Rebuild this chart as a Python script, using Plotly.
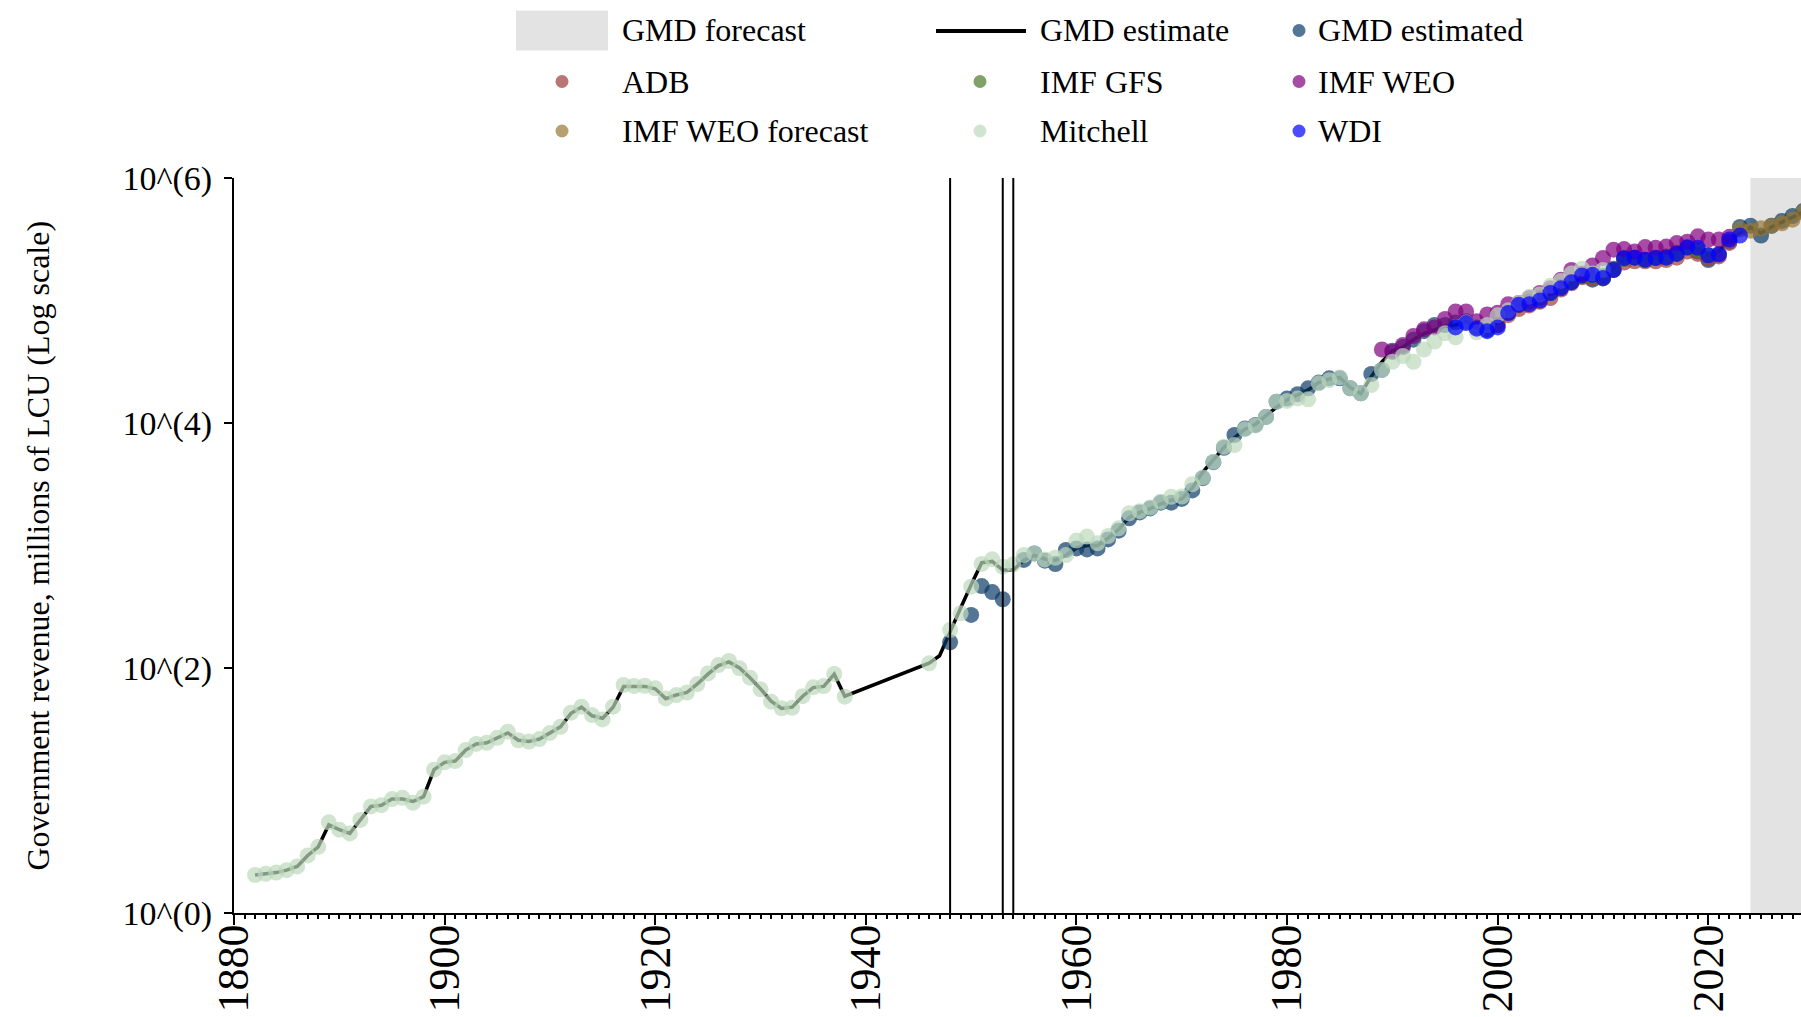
import plotly.graph_objects as go

# ---------------- data (log10 of millions of LCU) ----------------
mitchell_years = list(range(1882, 1939)) + [1946] + list(range(1948, 2011))
mitchell_log10 = [
    0.31, 0.32, 0.33, 0.35, 0.38, 0.47, 0.54, 0.74, 0.68, 0.65,
    0.76, 0.87, 0.88, 0.93, 0.94, 0.90, 0.95, 1.17, 1.23, 1.24,
    1.33, 1.38, 1.39, 1.43, 1.48, 1.41, 1.40, 1.42, 1.47, 1.52,
    1.635, 1.684, 1.616, 1.58, 1.684, 1.861, 1.853, 1.855, 1.834, 1.752,
    1.779, 1.80, 1.869, 1.956, 2.024, 2.057, 1.997, 1.921, 1.826, 1.725,
    1.671, 1.675, 1.77, 1.842, 1.853, 1.951, 1.766,
    2.038,
    2.31, 2.446, 2.664, 2.85, 2.887, 2.827, 2.846, 2.922, 2.935, 2.886,
    2.90, 2.922, 3.04, 3.073, 3.018, 3.077, 3.14, 3.263, 3.28, 3.31,
    3.357, 3.398, 3.40, 3.50, 3.556, 3.684, 3.806, 3.82, 3.949, 3.98,
    4.05, 4.174, 4.18, 4.201, 4.193, 4.324, 4.35, 4.372, 4.283, 4.242,
    4.31, 4.433, 4.50, 4.547, 4.50, 4.60, 4.665, 4.733, 4.70, 4.82,
    4.74, 4.80, 4.88, 4.92, 4.98, 5.03, 5.05, 5.12, 5.16, 5.22,
    5.26, 5.22, 5.25,
]

estimate_years = list(range(1882, 1939)) + list(range(1946, 2030))
estimate_log10 = [
    0.31, 0.32, 0.33, 0.35, 0.38, 0.47, 0.54, 0.72, 0.68, 0.65,
    0.76, 0.87, 0.88, 0.93, 0.93, 0.91, 0.95, 1.17, 1.23, 1.24,
    1.33, 1.38, 1.39, 1.43, 1.47, 1.41, 1.40, 1.42, 1.47, 1.52,
    1.63, 1.68, 1.61, 1.59, 1.68, 1.85, 1.85, 1.85, 1.83, 1.75,
    1.78, 1.80, 1.87, 1.95, 2.02, 2.05, 2.00, 1.92, 1.83, 1.73,
    1.67, 1.68, 1.77, 1.84, 1.85, 1.95, 1.77,
    2.04, 2.10, 2.30, 2.49, 2.68, 2.86, 2.87, 2.80, 2.80, 2.88,
    2.92, 2.89, 2.88, 2.92, 2.98, 3.00, 3.00, 3.06, 3.13, 3.23,
    3.27, 3.30, 3.34, 3.37, 3.38, 3.47, 3.60, 3.70, 3.80, 3.88,
    3.95, 3.99, 4.06, 4.13, 4.19, 4.23, 4.27, 4.33, 4.36, 4.37,
    4.29, 4.24, 4.38, 4.50, 4.59, 4.62, 4.68, 4.73, 4.76, 4.79,
    4.80, 4.83, 4.78, 4.77, 4.82, 4.90, 4.96, 4.99, 5.02, 5.07,
    5.12, 5.16, 5.21, 5.21, 5.20, 5.26, 5.34, 5.35, 5.34, 5.35,
    5.36, 5.39, 5.43, 5.42, 5.37, 5.40, 5.50, 5.55, 5.60, 5.55,
    5.60, 5.64, 5.68, 5.72,
]

gmd_years = [1948] + list(range(1950, 1954)) + list(range(1955, 2030))
gmd_log10 = [
    2.21, 2.433, 2.669, 2.62, 2.561,
    2.882, 2.935, 2.876, 2.848, 2.963, 2.976, 2.968, 2.976, 3.05, 3.121,
    3.222, 3.27, 3.303, 3.35, 3.35, 3.38, 3.45, 3.55, 3.68, 3.798,
    3.902, 3.956, 3.984, 4.05, 4.174, 4.20, 4.235, 4.283, 4.33, 4.365,
    4.365, 4.283, 4.242, 4.40, 4.433, 4.59, 4.62, 4.68, 4.75, 4.80,
    4.80, 4.82, 4.83, 4.78, 4.76, 4.80, 4.90, 4.96, 4.99, 5.02,
    5.07, 5.11, 5.15, 5.20, 5.17, 5.20, 5.26, 5.34, 5.35, 5.33,
    5.35, 5.36, 5.39, 5.43, 5.40, 5.33, 5.38, 5.48, 5.60, 5.61,
    5.53, 5.61, 5.65, 5.69, 5.73,
]

adb_years = list(range(2000, 2023))
adb_log10 = [
    4.80, 4.88, 4.93, 4.96, 4.99, 5.02, 5.09, 5.14, 5.19, 5.18,
    5.18, 5.25, 5.31, 5.32, 5.32, 5.32, 5.33, 5.35, 5.40, 5.38,
    5.34, 5.36, 5.47,
]

gfs_years = list(range(2005, 2021))
gfs_log10 = [
    5.06, 5.11, 5.15, 5.20, 5.20, 5.18, 5.25, 5.34, 5.35, 5.33,
    5.35, 5.35, 5.38, 5.43, 5.41, 5.37,
]

weo_years = list(range(1989, 2023))
weo_log10 = [
    4.60, 4.58, 4.637, 4.71, 4.765, 4.78, 4.85, 4.91, 4.91, 4.83,
    4.886, 4.90, 4.97, 4.98, 5.02, 5.061, 5.10, 5.17, 5.25, 5.22,
    5.286, 5.347, 5.415, 5.42, 5.40, 5.436, 5.43, 5.44, 5.469, 5.48,
    5.524, 5.497, 5.497, 5.52,
]

weo_fc_years = list(range(2023, 2030))
weo_fc_log10 = [5.58, 5.57, 5.59, 5.61, 5.63, 5.66, 5.72]

wdi_years = list(range(1996, 2024))
wdi_log10 = [
    4.78, 4.816, 4.77, 4.75, 4.78, 4.898, 4.966, 4.97, 5.00, 5.061,
    5.10, 5.15, 5.205, 5.21, 5.184, 5.249, 5.347, 5.35, 5.333, 5.347,
    5.35, 5.38, 5.434, 5.43, 5.369, 5.375, 5.497, 5.53,
]

regime_breaks = [1948, 1953, 1954]
forecast_start = 2024
x_range = [1880, 2028.8]
x_tick_years = [1880, 1900, 1920, 1940, 1960, 1980, 2000, 2020]
y_tick_vals = [1, 1e2, 1e4, 1e6]
y_tick_text = ["10^(0)", "10^(2)", "10^(4)", "10^(6)"]

FONT = "Liberation Serif"
ALPHA = 0.7
colors = {
    "GMD estimated": "#0b3a66",
    "ADB": "#9c3a3a",
    "IMF GFS": "#4a7a2a",
    "IMF WEO": "#800080",
    "IMF WEO forecast": "#997733",
    "Mitchell": "#bcd8bc",
    "WDI": "#0000ff",
}


def lin(vals):
    return [10 ** v for v in vals]


fig = go.Figure()

# GMD estimate line
fig.add_trace(go.Scatter(
    x=estimate_years, y=lin(estimate_log10), mode="lines", name="GMD estimate",
    line=dict(color="black", width=3.5), showlegend=False,
))

series = [
    ("GMD estimated", gmd_years, gmd_log10),
    ("ADB", adb_years, adb_log10),
    ("IMF GFS", gfs_years, gfs_log10),
    ("IMF WEO", weo_years, weo_log10),
    ("IMF WEO forecast", weo_fc_years, weo_fc_log10),
    ("Mitchell", mitchell_years, mitchell_log10),
    ("WDI", wdi_years, wdi_log10),
]
for name, xs, ys in series:
    fig.add_trace(go.Scatter(
        x=xs, y=lin(ys), mode="markers", name=name, showlegend=False,
        marker=dict(color=colors[name], size=16, opacity=ALPHA, line=dict(width=0)),
    ))

shapes = []
# forecast shading
shapes.append(dict(type="rect", xref="x", yref="paper", x0=forecast_start, x1=x_range[1],
                   y0=0, y1=1, fillcolor="#e3e3e3", line=dict(width=0), layer="below"))
for yr in regime_breaks:
    shapes.append(dict(type="line", xref="x", yref="paper", x0=yr, x1=yr, y0=0, y1=1,
                       line=dict(color="black", width=2)))

# ---------------- manual legend (paper coords) ----------------
PL, PW, PT, PH = 234, 1567, 178, 735


def px(xpix):
    return (xpix - PL) / PW


def py(ypix):
    return 1 - (ypix - PT) / PH


annotations = []
rows = [30.5, 81.5, 131]
cols_sym = [562, 980, 1299]
cols_txt = [620, 1038, 1316]
legend_items = [
    ("GMD forecast", 0, 0, "rect"),
    ("GMD estimate", 0, 1, "line"),
    ("GMD estimated", 0, 2, "dot"),
    ("ADB", 1, 0, "dot"),
    ("IMF GFS", 1, 1, "dot"),
    ("IMF WEO", 1, 2, "dot"),
    ("IMF WEO forecast", 2, 0, "dot"),
    ("Mitchell", 2, 1, "dot"),
    ("WDI", 2, 2, "dot"),
]
for name, r, c, kind in legend_items:
    yc = rows[r]
    if kind == "rect":
        shapes.append(dict(type="rect", xref="paper", yref="paper",
                           x0=px(516), x1=px(608), y0=py(50.5), y1=py(10.5),
                           fillcolor="#e3e3e3", line=dict(width=0)))
    elif kind == "line":
        shapes.append(dict(type="line", xref="paper", yref="paper",
                           x0=px(936), x1=px(1026), y0=py(31), y1=py(31),
                           line=dict(color="black", width=4)))
    else:
        shapes.append(dict(type="circle", xref="paper", yref="paper",
                           xsizemode="pixel", ysizemode="pixel",
                           xanchor=px(cols_sym[c]), yanchor=py(yc),
                           x0=-6.5, x1=6.5, y0=-6.5, y1=6.5,
                           fillcolor=colors[name], opacity=ALPHA, line=dict(width=0)))
    annotations.append(dict(text=name, xref="paper", yref="paper",
                            x=px(cols_txt[c]), y=py(yc), xanchor="left", yanchor="middle",
                            showarrow=False, font=dict(family=FONT, size=32, color="black")))

# y-axis title
annotations.append(dict(text="Government revenue, millions of LCU (Log scale)",
                        xref="paper", yref="paper", x=px(37), y=0.5,
                        xanchor="center", yanchor="middle", textangle=-90, showarrow=False,
                        font=dict(family=FONT, size=32, color="black")))

fig.update_layout(
    width=1801, height=1017,
    margin=dict(l=PL, r=1801 - PL - PW, t=PT, b=1017 - PT - PH, pad=0, autoexpand=False),
    paper_bgcolor="white", plot_bgcolor="white",
    font=dict(family=FONT, color="black"),
    shapes=shapes, annotations=annotations,
    showlegend=False,
)
fig.update_xaxes(
    range=x_range, showgrid=False, zeroline=False, automargin=False,
    showline=True, linecolor="black", linewidth=2,
    tickmode="array", tickvals=x_tick_years, ticktext=[str(v) for v in x_tick_years],
    ticks="outside", ticklen=10, tickwidth=2, tickcolor="black",
    tickangle=-90, ticklabelstandoff=-18,
    tickfont=dict(family=FONT, size=44, color="black"),
    minor=dict(ticks="outside", dtick=1, tick0=1880, ticklen=4, tickwidth=1.5, tickcolor="black", showgrid=False),
)
fig.update_yaxes(
    type="log", range=[0, 6], showgrid=False, zeroline=False, automargin=False,
    showline=True, linecolor="black", linewidth=2,
    tickmode="array", tickvals=y_tick_vals, ticktext=y_tick_text,
    ticks="outside", ticklen=8, tickwidth=2, tickcolor="black", ticklabelstandoff=5,
    tickfont=dict(family=FONT, size=34, color="black"),
)

fig.write_html("out.html", config={"displayModeBar": False},
               post_script="document.body.style.margin='0px';")
